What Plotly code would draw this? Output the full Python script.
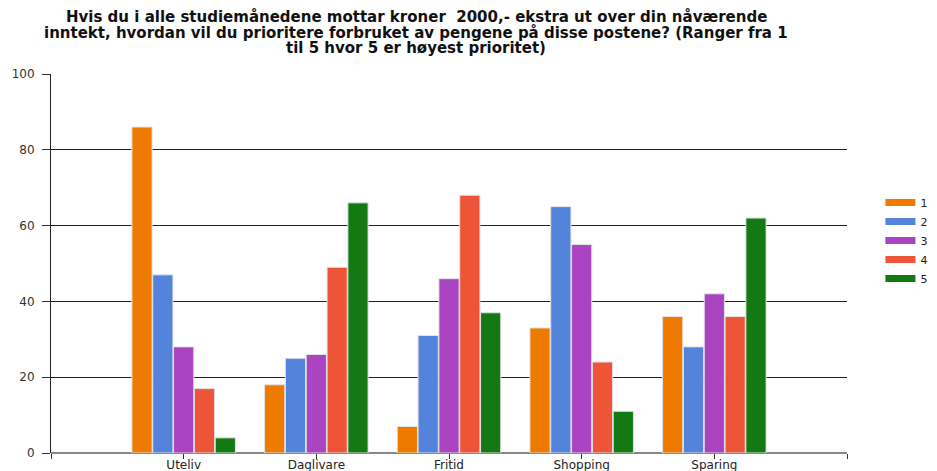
import plotly.graph_objects as go

categories = ["Uteliv", "Daglivare", "Fritid", "Shopping", "Sparing"]
series_names = ["1", "2", "3", "4", "5"]
values_1 = [86, 18, 7, 33, 36]
values_2 = [47, 25, 31, 65, 28]
values_3 = [28, 26, 46, 55, 42]
values_4 = [17, 49, 68, 24, 36]
values_5 = [4, 66, 37, 11, 62]
series_values = [values_1, values_2, values_3, values_4, values_5]
colors = ["#EE7B00", "#5383DB", "#AA44C0", "#EE5538", "#137A13"]
y_ticks = [0, 20, 40, 60, 80, 100]
title_lines = [
    "Hvis du i alle studiemånedene mottar kroner&nbsp; 2000,- ekstra ut over din nåværende",
    "inntekt, hvordan vil du prioritere forbruket av pengene på disse postene? (Ranger fra 1",
    "til 5 hvor 5 er høyest prioritet)",
]

xpos = list(range(len(categories)))

fig = go.Figure()
for name, vals, col in zip(series_names, series_values, colors):
    fig.add_trace(go.Bar(
        x=xpos, y=vals, name=name, legendgroup=name, showlegend=False,
        marker=dict(color=col, line=dict(color="#E2E2E2", width=1)),
    ))
for name, col in zip(series_names, colors):
    fig.add_trace(go.Scatter(
        x=[None], y=[None], mode="lines", name=name, legendgroup=name,
        line=dict(color=col, width=7),
    ))

fig.update_layout(
    width=960, height=471,
    margin=dict(l=43, r=121, t=66, b=26),
    paper_bgcolor="white", plot_bgcolor="white",
    barmode="group", bargap=0.215, bargroupgap=0.03,
    font=dict(family="DejaVu Sans, sans-serif", size=12, color="#222"),
    showlegend=True,
    legend=dict(x=1.042, xanchor="left", y=0.561, yanchor="middle",
                font=dict(size=11, color="#222"), itemwidth=30,
                tracegroupgap=0, bgcolor="rgba(0,0,0,0)"),
)

fig.update_xaxes(
    range=[-1, 5], tickmode="array", automargin=False,
    tickvals=[-1] + xpos + [5], ticktext=[""] + categories + [""],
    ticks="outside", ticklen=5, tickcolor="#333", tickwidth=1,
    showline=False, showgrid=False, zeroline=False,
    tickfont=dict(size=12, color="#222"), ticklabelstandoff=-4,
)
fig.update_yaxes(
    range=[0, 100], tickmode="array", tickvals=y_ticks, automargin=False,
    ticks="outside", ticklen=8, tickcolor="#333", tickwidth=1,
    showline=True, linecolor="#222", linewidth=1,
    showgrid=True, gridcolor="#222", gridwidth=1,
    zeroline=True, zerolinecolor="#888", zerolinewidth=2,
    tickfont=dict(size=12, color="#333"), ticklabelstandoff=5,
)

for i, line in enumerate(title_lines):
    fig.add_annotation(
        text="<b>" + line + "</b>", xref="paper", yref="paper",
        x=(416 - 51) / (847 - 51), y=1, yanchor="middle", xanchor="center",
        yshift=(74 - (17 + 15.5 * i)), showarrow=False, borderpad=0,
        font=dict(size=15, color="#111"),
    )

fig.write_html("out.html")
